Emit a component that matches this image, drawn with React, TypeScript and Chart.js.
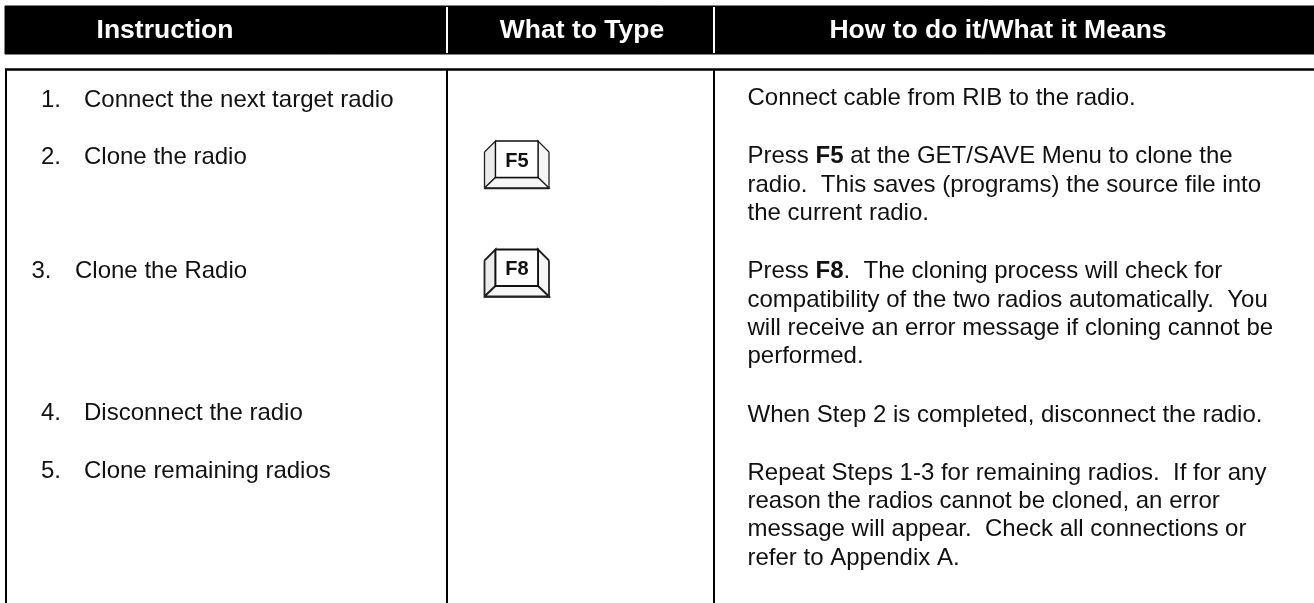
import React, { useEffect, useRef } from "react";
import { Chart, registerables } from "chart.js";

Chart.register(...registerables);

// Table content
const headers = ["Instruction", "What to Type", "How to do it/What it Means"];
const stepNumbers = ["1.", "2.", "3.", "4.", "5."];
const stepLabels = [
  "Connect the next target radio",
  "Clone the radio",
  "Clone the Radio",
  "Disconnect the radio",
  "Clone remaining radios",
];
const keyLabels = ["F5", "F8"];
const meaningLines = [
  "Connect cable from RIB to the radio.",
  "Press **F5** at the GET/SAVE Menu to clone the",
  "radio.  This saves (programs) the source file into",
  "the current radio.",
  "Press **F8**.  The cloning process will check for",
  "compatibility of the two radios automatically.  You",
  "will receive an error message if cloning cannot be",
  "performed.",
  "When Step 2 is completed, disconnect the radio.",
  "Repeat Steps 1-3 for remaining radios.  If for any",
  "reason the radios cannot be cloned, an error",
  "message will appear.  Check all connections or",
  "refer to Appendix A.",
];

// Layout
const W = 1314;
const H = 603;
const FONT = '"Liberation Sans", Arial, sans-serif';
const BODY_SIZE = 24;
const headerCenters = [165, 582, 998];
const headerBaseline = 38;
const stepNumberX = [41, 41, 31.5, 41, 41];
const stepLabelX = [84, 84, 75, 84, 84];
const stepBaselines = [107, 164, 278, 420, 478];
const meaningBaselines = [105, 163, 192, 220, 278, 306.5, 335, 362.5, 422, 480, 508, 536, 564.5];
const meaningX = 747.5;
const keyTops = [140, 248.5];
const keyLineWidths = [1.3, 1.8];
const keyBaselineOffsets = [27.3, 26];
const keyCenterX = 517;
const colX = [6, 447, 714];

type P = { x: number; y: number };
const pt = (x: number, y: number): P => ({ x, y });

function seg(data: P[], color: string, width: number) {
  return { type: "scatter" as const, data, showLine: true, borderColor: color, borderWidth: width, pointRadius: 0, fill: false, tension: 0 };
}
function poly(data: P[], fillColor: string, line: string, width: number) {
  return { type: "scatter" as const, data: [...data, data[0]], showLine: true, borderColor: line, borderWidth: width, backgroundColor: fillColor, pointRadius: 0, fill: "shape", tension: 0 };
}
function keyDatasets(t: number, lw: number) {
  const L = 484.5, R = 549, il = 495.5, ir = 538, it = t + 1, ib = t + 37.5, sh = t + 12, b = t + 48;
  return [
    poly([pt(L, sh), pt(il, it), pt(il, ib), pt(L, b)], "#ececec", "#222222", lw),
    poly([pt(R, sh), pt(ir, it), pt(ir, ib), pt(R, b)], "#f6f6f6", "#222222", lw),
    poly([pt(L, b), pt(il, ib), pt(ir, ib), pt(R, b)], "#f6f6f6", "#222222", lw),
    poly([pt(il, it), pt(ir, it), pt(ir, ib), pt(il, ib)], "#ffffff", "#111111", lw),
    seg([pt(L, b + 0.5), pt(R, b + 0.5)], "#222222", 1.5),
  ];
}

const textPlugin = {
  id: "tableText",
  afterDatasetsDraw(chart: any) {
    const { ctx, scales } = chart;
    const X = (v: number) => scales.x.getPixelForValue(v);
    const Y = (v: number) => scales.y.getPixelForValue(v);
    ctx.save();
    ctx.textBaseline = "alphabetic";
    // header
    ctx.fillStyle = "#ffffff";
    ctx.textAlign = "center";
    ctx.font = `bold 26.5px ${FONT}`;
    headers.forEach((h, i) => ctx.fillText(h, X(headerCenters[i]), Y(headerBaseline)));
    // keys
    ctx.fillStyle = "#111111";
    ctx.font = `bold 20px ${FONT}`;
    keyLabels.forEach((k, i) => ctx.fillText(k, X(keyCenterX), Y(keyTops[i] + keyBaselineOffsets[i])));
    // steps
    ctx.textAlign = "left";
    ctx.font = `${BODY_SIZE}px ${FONT}`;
    stepNumbers.forEach((n, i) => ctx.fillText(n, X(stepNumberX[i]), Y(stepBaselines[i])));
    stepLabels.forEach((s, i) => ctx.fillText(s, X(stepLabelX[i]), Y(stepBaselines[i])));
    // meanings with inline bold
    meaningLines.forEach((line, i) => {
      let x = X(meaningX);
      line.split("**").forEach((part, j) => {
        ctx.font = `${j % 2 ? "bold " : ""}${BODY_SIZE}px ${FONT}`;
        ctx.fillText(part, x, Y(meaningBaselines[i]));
        x += ctx.measureText(part).width;
      });
    });
    ctx.restore();
  },
};

export default function App() {
  const ref = useRef<HTMLCanvasElement>(null);
  useEffect(() => {
    document.body.style.margin = "0";
    document.body.style.background = "#ffffff";
    const layers: any[] = [
      poly([pt(5, 6), pt(W, 6), pt(W, 54), pt(5, 54)], "#000000", "#000000", 1),
      seg([pt(colX[1], 7), pt(colX[1], 53)], "#ffffff", 2),
      seg([pt(colX[2], 7), pt(colX[2], 53)], "#ffffff", 2),
      seg([pt(5, 69.5), pt(W, 69.5)], "#000000", 2.5),
      ...colX.map((x) => seg([pt(x, 69), pt(x, H)], "#000000", 2)),
      ...keyTops.flatMap((t, i) => keyDatasets(t, keyLineWidths[i])),
    ];
    // Chart.js paints the last dataset first, so reverse to paint in list order
    const datasets = layers.slice().reverse();
    const chart = new Chart(ref.current!, {
      type: "scatter",
      data: { datasets },
      options: {
        animation: false,
        responsive: false,
        layout: { padding: 0 },
        plugins: { legend: { display: false }, tooltip: { enabled: false } },
        scales: {
          x: { type: "linear", min: 0, max: W, display: false },
          y: { type: "linear", min: 0, max: H, reverse: true, display: false },
        },
        elements: { line: { borderCapStyle: "butt" } },
      },
      plugins: [textPlugin],
    } as any);
    return () => chart.destroy();
  }, []);
  return (
    <div style={{ position: "absolute", left: 0, top: 0, width: W, height: H, background: "#fff" }}>
      <canvas ref={ref} width={W} height={H} style={{ display: "block" }} />
    </div>
  );
}
